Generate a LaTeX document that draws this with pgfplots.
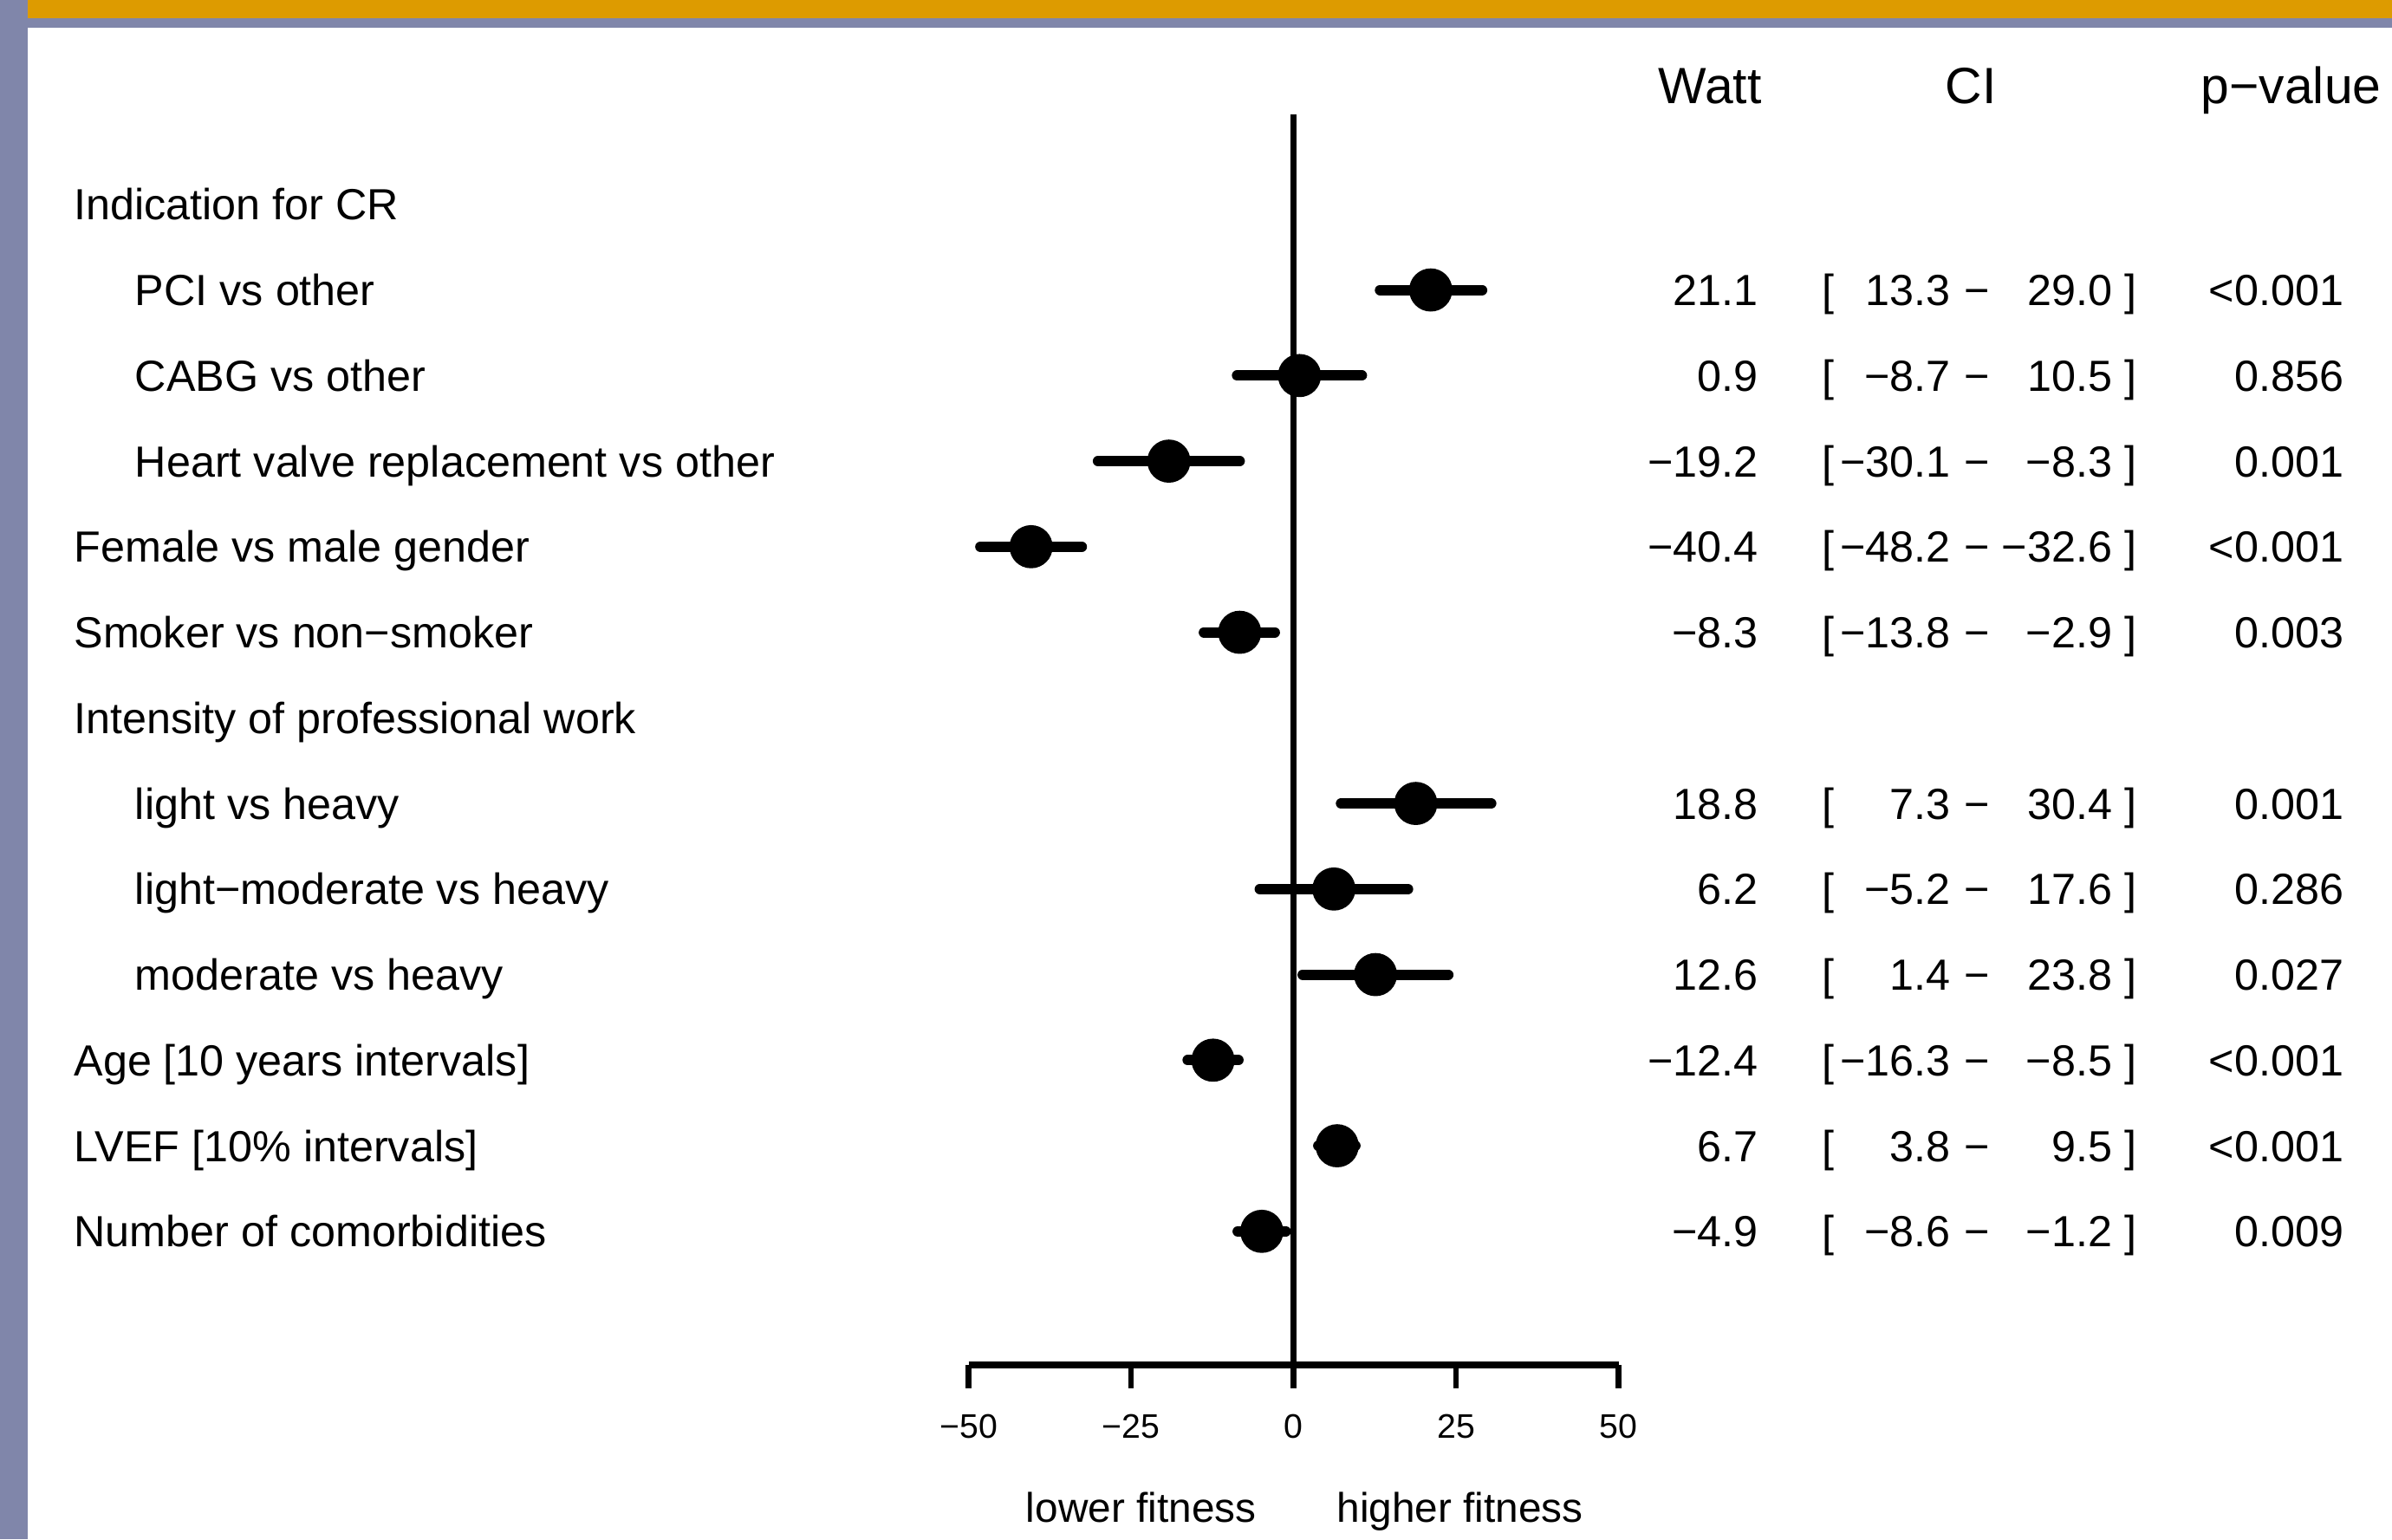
\documentclass[border=0pt]{standalone}
\usepackage{fontspec}
\setmainfont{Liberation Sans}
\usepackage{pgfplots}
\pgfplotsset{compat=1.18}
\definecolor{barorange}{RGB}{221,155,0}
\definecolor{stripgray}{RGB}{128,134,170}

\tikzset{
  lab/.style={font=\fontsize{10}{12}\selectfont, inner sep=0pt, anchor=base west, yshift=-3.6pt},
  num/.style={font=\fontsize{10}{12}\selectfont, inner sep=0pt, yshift=-3.6pt},
  hdr/.style={font=\fontsize{11.7}{14}\selectfont, inner sep=0pt, anchor=base, yshift=-4.2pt},
}
% #1 row y, #2 estimate, #3 lower, #4 upper, #5 p-value
\newcommand{\statrow}[5]{%
  \node[num,anchor=base east] at (axis cs:71.6,#1) {#2};
  \node[num,anchor=base west] at (axis cs:81.2,#1) {[};
  \node[num,anchor=base east] at (axis cs:101.2,#1) {#3};
  \node[num,anchor=base] at (axis cs:105.2,#1) {−};
  \node[num,anchor=base east] at (axis cs:126.1,#1) {#4};
  \node[num,anchor=base west] at (axis cs:127.7,#1) {]};
  \node[num,anchor=base east] at (axis cs:161.7,#1) {#5};
}

\begin{document}
\begin{tikzpicture}
\begin{scope}[x=0.35pt,y=-0.35pt,shift={(0,353.15pt)}]
  \fill[white] (0,0) rectangle (1568,1009);
  \fill[barorange] (0,0) rectangle (1568,12);
  \fill[stripgray] (0,12) rectangle (1568,18.4);
  \fill[stripgray] (0,0) rectangle (18,1009);
\end{scope}

\begin{axis}[
  at={(222.25pt,39.9pt)}, anchor=south west,
  x=1.491pt, y=19.635pt,
  xmin=-50, xmax=50, ymin=-14.565, ymax=0.0517,
  enlargelimits=false, clip=false,
  axis x line=bottom, axis y line=none,
  axis line style={line width=1.6pt,-},
  xtick={-50,-25,0,25,50}, xticklabels={},
  major tick length=5.25pt, tick align=outside,
  tick style={line width=1.3pt,black},
]
% zero line
\addplot[black, line width=1.3pt] coordinates {(0,0.0517) (0,-14.565)};
% confidence intervals
\addplot[black, line width=2.4pt, line cap=round, unbounded coords=jump] coordinates {
  (13.3,-2) (29.0,-2) (nan,nan)
  (-8.7,-3) (10.5,-3) (nan,nan)
  (-30.1,-4) (-8.3,-4) (nan,nan)
  (-48.2,-5) (-32.6,-5) (nan,nan)
  (-13.8,-6) (-2.9,-6) (nan,nan)
  (7.3,-8) (30.4,-8) (nan,nan)
  (-5.2,-9) (17.6,-9) (nan,nan)
  (1.4,-10) (23.8,-10) (nan,nan)
  (-16.3,-11) (-8.5,-11) (nan,nan)
  (3.8,-12) (9.5,-12) (nan,nan)
  (-8.6,-13) (-1.2,-13)
};
% point estimates
\addplot[only marks, mark=*, mark size=4.75pt, black] coordinates {
  (21.1,-2) (0.9,-3) (-19.2,-4) (-40.4,-5) (-8.3,-6)
  (18.8,-8) (6.2,-9) (12.6,-10) (-12.4,-11) (6.7,-12) (-4.9,-13)
};

% tick labels
\foreach \v/\t in {-50/−50,-25/−25,0/0,25/25,50/50}{
  \edef\temp{\noexpand\node[font=\noexpand\fontsize{7.8}{9}\noexpand\selectfont, inner sep=0pt, anchor=base] at (axis cs:\v,-15.42) {\t};}
  \temp
}
\node[font=\fontsize{9.5}{11}\selectfont, inner sep=0pt, anchor=base] at (axis cs:-23.47,-16.40) {lower fitness};
\node[font=\fontsize{9.5}{11}\selectfont, inner sep=0pt, anchor=base] at (axis cs:25.59,-16.40) {higher fitness};

% headers
\node[hdr] at (axis cs:64.1,0.392) {Watt};
\node[hdr] at (axis cs:104.2,0.392) {CI};
\node[hdr] at (axis cs:153.5,0.392) {p−value};

% row labels
\node[lab] at (axis cs:-187.79,-1) {Indication for CR};
\node[lab] at (axis cs:-178.4,-2) {PCI vs other};
\node[lab] at (axis cs:-178.4,-3) {CABG vs other};
\node[lab] at (axis cs:-178.4,-4) {Heart valve replacement vs other};
\node[lab] at (axis cs:-187.79,-5) {Female vs male gender};
\node[lab] at (axis cs:-187.79,-6) {Smoker vs non−smoker};
\node[lab] at (axis cs:-187.79,-7) {Intensity of professional work};
\node[lab] at (axis cs:-178.4,-8) {light vs heavy};
\node[lab] at (axis cs:-178.4,-9) {light−moderate vs heavy};
\node[lab] at (axis cs:-178.4,-10) {moderate vs heavy};
\node[lab] at (axis cs:-187.79,-11) {Age [10 years intervals]};
\node[lab] at (axis cs:-187.79,-12) {LVEF [10\% intervals]};
\node[lab] at (axis cs:-187.79,-13) {Number of comorbidities};

% statistics columns
\statrow{-2}{21.1}{13.3}{29.0}{<0.001}
\statrow{-3}{0.9}{−8.7}{10.5}{0.856}
\statrow{-4}{−19.2}{−30.1}{−8.3}{0.001}
\statrow{-5}{−40.4}{−48.2}{−32.6}{<0.001}
\statrow{-6}{−8.3}{−13.8}{−2.9}{0.003}
\statrow{-8}{18.8}{7.3}{30.4}{0.001}
\statrow{-9}{6.2}{−5.2}{17.6}{0.286}
\statrow{-10}{12.6}{1.4}{23.8}{0.027}
\statrow{-11}{−12.4}{−16.3}{−8.5}{<0.001}
\statrow{-12}{6.7}{3.8}{9.5}{<0.001}
\statrow{-13}{−4.9}{−8.6}{−1.2}{0.009}
\end{axis}
\pgfresetboundingbox
\path (0,0) rectangle (548.8pt,353.15pt);
\end{tikzpicture}
\end{document}
